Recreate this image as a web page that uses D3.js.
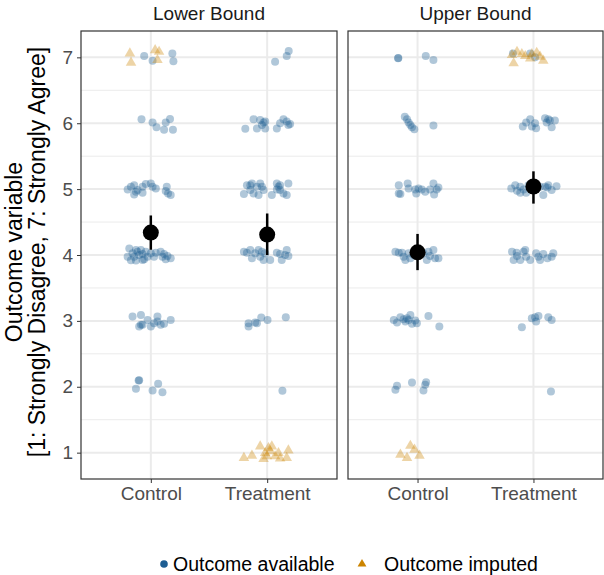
<!DOCTYPE html>
<html>
<head>
<meta charset="utf-8">
<script src="https://cdn.jsdelivr.net/npm/d3@7"></script>
<style>
  body { margin: 0; background: #fff; }
  text { font-family: "Liberation Sans", Arial, Helvetica, sans-serif; }
</style>
</head>
<body>
<div id="chart"></div>
<script>
// categories / panels / ticks
var categories = ["Control", "Treatment"];
var panels = ["Lower Bound", "Upper Bound"];
var yTicks = [1, 2, 3, 4, 5, 6, 7];
var yMinor = [1.5, 2.5, 3.5, 4.5, 5.5, 6.5];

// jittered points: [offset from category (category units), outcome value]
// Lower bound, control
var lowerControlAvailable = [
  [-0.057, 7.02], [0.015, 6.95], [0.185, 7.06], [0.194, 6.94],
  [-0.08, 6.06], [0.015, 6.01], [0.049, 5.94], [0.114, 5.9], [0.128, 6.01], [0.165, 6.065], [0.19, 5.9],
  [-0.199, 4.995], [-0.171, 5.035], [-0.143, 5.06], [-0.128, 4.96], [-0.114, 4.985], [-0.071, 4.944],
  [-0.071, 5.035], [-0.043, 5.076], [0, 5.086], [0.015, 5.035], [0.043, 5.01], [0.137, 5.035],
  [0.128, 4.97], [0.148, 4.935], [0.171, 4.91], [-0.143, 4.92],
  [-0.185, 4.1], [-0.199, 3.975], [-0.171, 3.92], [-0.157, 4.025], [-0.143, 3.975], [-0.128, 3.915],
  [-0.114, 4.05], [-0.1, 4.0], [-0.085, 4.075], [-0.071, 4.015], [-0.057, 3.935], [-0.043, 4.05],
  [-0.028, 3.975], [0, 4.025], [0.028, 3.975], [0.043, 4.035], [0.085, 4.05], [0.1, 3.975],
  [0.114, 4.015], [0.128, 3.935], [0.143, 3.985], [0.171, 3.95], [-0.128, 4.075], [-0.071, 3.925],
  [-0.157, 3.065], [-0.085, 3.09], [-0.085, 2.94], [-0.1, 2.915], [-0.028, 3.015], [0, 2.915],
  [0.057, 3.065], [0.057, 2.99], [0.085, 2.94], [0.114, 2.955], [0.171, 3.015], [-0.071, 2.94], [0.028, 2.965],
  [-0.105, 2.095], [-0.1, 2.1], [-0.128, 1.97], [0.015, 1.945], [0.063, 2.045], [0.1, 1.915]
];
var lowerControlImputed = [
  [-0.18, 7.06], [-0.17, 6.92], [0.037, 7.11], [0.071, 7.085], [0.057, 6.96]
];
// Lower bound, treatment
var lowerTreatmentAvailable = [
  [0.068, 6.935], [0.168, 7.02], [0.185, 7.095],
  [-0.188, 5.915], [-0.117, 6.06], [-0.088, 5.92], [-0.06, 6.05], [-0.045, 5.975], [-0.017, 5.92],
  [-0.017, 6.025], [0.083, 5.92], [0.111, 6.0], [0.14, 6.06], [0.168, 6.025], [0.182, 5.975],
  [0.197, 5.99], [-0.031, 6.01],
  [-0.2, 4.925], [-0.174, 5.06], [-0.145, 4.985], [-0.131, 5.086], [-0.117, 4.935], [-0.088, 5.035],
  [-0.074, 4.91], [-0.06, 5.086], [-0.045, 5.035], [-0.031, 4.985], [0.04, 4.91], [0.083, 5.086],
  [0.097, 5.035], [0.111, 4.985], [0.14, 4.935], [0.168, 4.91], [0.182, 5.086], [0.111, 5.06],
  [-0.145, 5.06], [0.083, 4.995],
  [-0.2, 4.05], [-0.145, 4.075], [-0.131, 3.95], [-0.103, 4.025], [-0.074, 4.075], [-0.06, 3.975],
  [-0.045, 4.05], [-0.031, 3.925], [-0.017, 4.025], [0.026, 3.925], [0.083, 4.035], [0.111, 4.015],
  [0.125, 3.925], [0.154, 4.0], [0.168, 4.075], [0.182, 3.985], [-0.174, 4.035],
  [-0.16, 2.965], [-0.16, 2.915], [-0.103, 2.975], [-0.088, 2.965], [-0.051, 3.05], [0.003, 3.015], [0.16, 3.055],
  [0.131, 1.94]
];
var lowerTreatmentImputed = [
  [-0.2, 0.92], [-0.131, 0.955], [-0.06, 1.095], [-0.031, 0.905], [-0.017, 0.995], [0.011, 1.07],
  [0.026, 1.02], [0.04, 1.095], [0.068, 0.945], [0.097, 0.995], [0.111, 0.91], [0.168, 0.92],
  [0.182, 1.035], [-0.003, 0.945]
];
// Upper bound, control
var upperControlAvailable = [
  [-0.168, 6.985], [-0.166, 6.99], [0.071, 7.02], [0.137, 6.96],
  [-0.11, 6.1], [-0.091, 6.06], [-0.077, 6.01], [-0.062, 5.975], [-0.048, 5.94], [-0.028, 5.91], [0.137, 5.965],
  [-0.162, 5.06], [-0.162, 4.935], [-0.148, 4.925], [-0.085, 5.086], [-0.077, 5.01], [-0.02, 4.995],
  [-0.011, 4.935], [0.037, 4.995], [0.066, 4.96], [0.108, 4.995], [0.137, 5.086], [0.143, 4.92],
  [0.165, 4.995], [0.18, 5.025], [0.009, 5.01],
  [-0.191, 4.05], [-0.162, 4.035], [-0.12, 3.975], [-0.105, 3.925], [-0.077, 4.025], [-0.062, 3.95],
  [-0.034, 4.0], [0.094, 4.05], [0.108, 3.985], [0.137, 4.075], [0.151, 3.95], [0.18, 3.95],
  [0.051, 4.025], [0.08, 3.925], [-0.134, 4.035], [0.009, 4.075],
  [-0.205, 3.015], [-0.177, 2.975], [-0.148, 3.055], [-0.12, 3.025], [-0.105, 2.99], [-0.077, 3.015],
  [-0.062, 3.09], [-0.048, 2.955], [-0.02, 3.005], [-0.006, 2.965], [0.094, 3.075], [0.188, 2.915], [-0.091, 3.04],
  [-0.191, 1.955], [-0.177, 2.015], [-0.048, 2.065], [0.051, 1.945], [0.074, 2.07], [0.066, 2.03]
];
var upperControlImputed = [
  [-0.148, 0.97], [-0.091, 0.92], [-0.062, 1.105], [-0.026, 1.045], [0.017, 0.955]
];
// Upper bound, treatment
var upperTreatmentAvailable = [
  [-0.177, 7.06], [-0.028, 7.06], [0.014, 7.0],
  [-0.092, 5.95], [-0.063, 6.01], [-0.028, 6.06], [-0.014, 5.95], [0.014, 6.0], [0.023, 5.925],
  [0.1, 6.075], [0.114, 6.01], [0.142, 6.04], [0.157, 5.94], [0.185, 6.04], [0.128, 6.06],
  [-0.191, 5.01], [-0.157, 5.06], [-0.142, 4.975], [-0.114, 5.035], [-0.085, 4.995], [-0.063, 4.945],
  [-0.043, 5.06], [0.057, 5.035], [0.085, 4.91], [0.1, 5.035], [0.12, 5.025], [0.157, 4.985],
  [0.199, 5.045], [-0.114, 4.945], [0.128, 5.06],
  [-0.185, 4.05], [-0.171, 3.925], [-0.142, 3.985], [-0.114, 3.925], [-0.085, 4.05], [-0.071, 4.075],
  [-0.063, 3.975], [-0.028, 3.925], [0.023, 4.025], [0.043, 3.975], [0.057, 3.925], [0.085, 4.015],
  [0.12, 3.95], [0.157, 3.975], [0.171, 4.025], [-0.145, 4.035],
  [-0.1, 2.905], [-0.014, 3.04], [0.023, 2.99], [0.043, 3.075], [0.128, 3.055], [0.157, 3.015], [0.014, 3.055],
  [0.151, 1.93]
];
var upperTreatmentImputed = [
  [-0.185, 7.035], [-0.171, 6.91], [-0.142, 7.085], [-0.1, 7.05], [-0.071, 7.02], [-0.028, 6.985],
  [-0.014, 7.05], [0.028, 7.07], [0.057, 7.01], [0.085, 6.95]
];

// group means with interval: [mean, low, high] per category
var lowerMeans = [[4.34, 4.08, 4.60], [4.31, 4.00, 4.63]];
var upperMeans = [[4.04, 3.77, 4.32], [5.04, 4.78, 5.27]];

var panelData = [
  { title: panels[0], available: [lowerControlAvailable, lowerTreatmentAvailable],
    imputed: [lowerControlImputed, lowerTreatmentImputed], means: lowerMeans },
  { title: panels[1], available: [upperControlAvailable, upperTreatmentAvailable],
    imputed: [upperControlImputed, upperTreatmentImputed], means: upperMeans }
];

var width = 604, height = 575;
var panelTop = 31, panelBottom = 479;
var panelRanges = [[81, 337], [348, 603]];
var blue = "#1d5e93", orange = "#cc8400";
var gridColor = "#ebebeb", borderColor = "#333333", tickText = "#4d4d4d";

var svg = d3.select("#chart").append("svg")
  .attr("width", width)
  .attr("height", height);

var y = d3.scaleLinear().domain([0.6, 7.4]).range([panelBottom, panelTop]);
var triangle = d3.symbol().type(d3.symbolTriangle).size(48);

panelData.forEach(function (p, i) {
  var x = d3.scaleLinear().domain([0.4, 2.6]).range(panelRanges[i]);
  var g = svg.append("g");
  var x0 = panelRanges[i][0], x1 = panelRanges[i][1];

  //Gridlines - minor first, then major
  g.selectAll(".minor").data(yMinor).enter().append("line")
    .attr("x1", x0).attr("x2", x1)
    .attr("y1", function (d) { return y(d); }).attr("y2", function (d) { return y(d); })
    .attr("stroke", gridColor).attr("stroke-width", 1);
  g.selectAll(".major").data(yTicks).enter().append("line")
    .attr("x1", x0).attr("x2", x1)
    .attr("y1", function (d) { return y(d); }).attr("y2", function (d) { return y(d); })
    .attr("stroke", gridColor).attr("stroke-width", 2);
  g.selectAll(".vmajor").data(categories).enter().append("line")
    .attr("x1", function (d, k) { return x(k + 1); }).attr("x2", function (d, k) { return x(k + 1); })
    .attr("y1", panelTop).attr("y2", panelBottom)
    .attr("stroke", gridColor).attr("stroke-width", 2);

  //Points: available (circles) and imputed (triangles)
  categories.forEach(function (c, k) {
    g.append("g").selectAll("circle").data(p.available[k]).enter().append("circle")
      .attr("cx", function (d) { return x(k + 1 + d[0]); })
      .attr("cy", function (d) { return y(d[1]); })
      .attr("r", 4)
      .attr("fill", blue).attr("fill-opacity", 0.35);
    g.append("g").selectAll("path").data(p.imputed[k]).enter().append("path")
      .attr("d", triangle)
      .attr("transform", function (d) { return "translate(" + x(k + 1 + d[0]) + "," + y(d[1]) + ")"; })
      .attr("fill", orange).attr("fill-opacity", 0.35);
  });

  //Means with error bars
  var m = g.append("g");
  m.selectAll("line").data(p.means).enter().append("line")
    .attr("x1", function (d, k) { return x(k + 1); }).attr("x2", function (d, k) { return x(k + 1); })
    .attr("y1", function (d) { return y(d[1]); }).attr("y2", function (d) { return y(d[2]); })
    .attr("stroke", "#000").attr("stroke-width", 2.5);
  m.selectAll("circle").data(p.means).enter().append("circle")
    .attr("cx", function (d, k) { return x(k + 1); })
    .attr("cy", function (d) { return y(d[0]); })
    .attr("r", 8).attr("fill", "#000");

  //Panel border
  g.append("rect")
    .attr("x", x0).attr("y", panelTop)
    .attr("width", x1 - x0).attr("height", panelBottom - panelTop)
    .attr("fill", "none").attr("stroke", borderColor).attr("stroke-width", 1.2);

  //Strip title
  svg.append("text")
    .attr("x", (x0 + x1) / 2).attr("y", 20)
    .attr("text-anchor", "middle")
    .attr("font-size", 19).attr("fill", "#1a1a1a")
    .text(p.title);

  //X axis
  var xAxis = d3.axisBottom(x)
    .tickValues([1, 2])
    .tickFormat(function (d) { return categories[d - 1]; })
    .tickSize(4).tickPadding(4);
  var xa = svg.append("g").attr("transform", "translate(0," + panelBottom + ")").call(xAxis);
  xa.select(".domain").remove();
  xa.selectAll("line").attr("stroke", borderColor);
  xa.selectAll("text").attr("fill", tickText).attr("font-size", 19)
    .style("font-family", "Liberation Sans, Arial, sans-serif");

  //Y axis only on first panel
  if (i === 0) {
    var yAxis = d3.axisLeft(y).tickValues(yTicks).tickFormat(d3.format("d"))
      .tickSize(4).tickPadding(4);
    var ya = svg.append("g").attr("transform", "translate(" + x0 + ",0)").call(yAxis);
    ya.select(".domain").remove();
    ya.selectAll("line").attr("stroke", borderColor);
    ya.selectAll("text").attr("fill", tickText).attr("font-size", 19)
      .style("font-family", "Liberation Sans, Arial, sans-serif");
  }
});

//Y axis title, two lines
var yTitle = svg.append("text")
  .attr("transform", "translate(0," + ((panelTop + panelBottom) / 2 - 3) + ") rotate(-90)")
  .attr("text-anchor", "middle")
  .attr("font-size", 23).attr("fill", "#000");
yTitle.append("tspan").attr("x", 0).attr("y", 22).text("Outcome variable");
yTitle.append("tspan").attr("x", 0).attr("y", 45).text("[1: Strongly Disagree, 7: Strongly Agree]");

//Legend
var legend = svg.append("g").attr("transform", "translate(0,564)");
legend.append("circle").attr("cx", 164).attr("cy", 0).attr("r", 3.8).attr("fill", blue);
legend.append("text").attr("x", 173).attr("y", 7).attr("font-size", 19.5).attr("fill", "#000")
  .text("Outcome available");
legend.append("path").attr("d", d3.symbol().type(d3.symbolTriangle).size(34))
  .attr("transform", "translate(362,0)").attr("fill", orange);
legend.append("text").attr("x", 384).attr("y", 7).attr("font-size", 19.5).attr("fill", "#000")
  .text("Outcome imputed");
</script>
</body>
</html>
